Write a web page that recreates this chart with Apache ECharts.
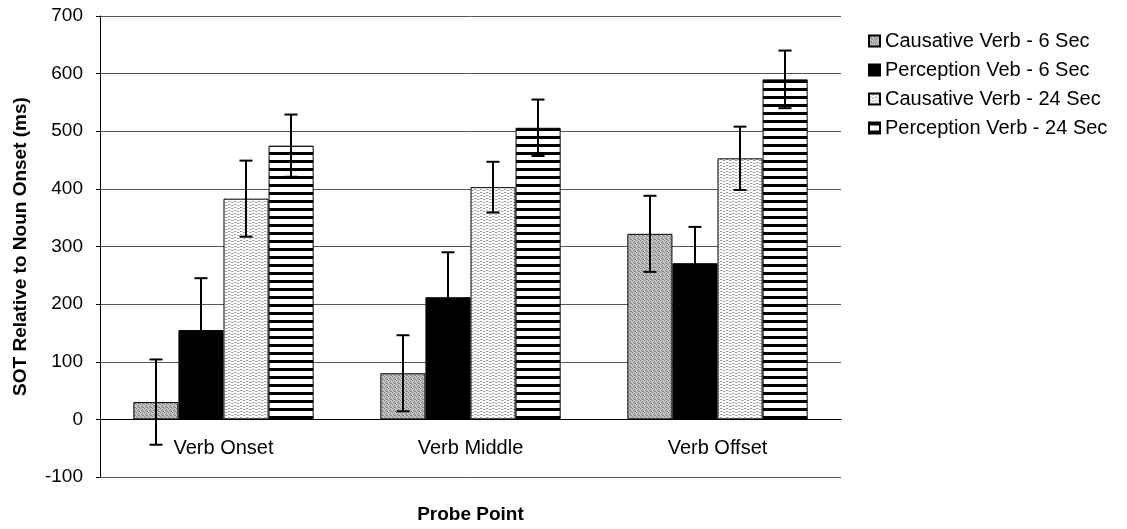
<!DOCTYPE html>
<html><head><meta charset="utf-8">
<script src="https://cdn.jsdelivr.net/npm/echarts@6/dist/echarts.min.js"></script>
<style>html,body{margin:0;padding:0;background:#fff}#c{width:1127px;height:529px}</style>
</head><body><div id="c"></div>
<script>
const categories = ['Verb Onset', 'Verb Middle', 'Verb Offset'];
const seriesNames = ['Causative Verb - 6 Sec', 'Perception Veb - 6 Sec', 'Causative Verb - 24 Sec', 'Perception Verb - 24 Sec'];
const causative6 = [30, 80, 322];
const perception6 = [155, 212, 271];
const causative24 = [383, 403, 453];
const perception24 = [475, 506, 590];
const causative6Err = [74, 66, 66];
const perception6Err = [90, 78, 63];
const causative24Err = [66, 44, 55];
const perception24Err = [54, 49, 50];
const yTicks = [-100, 0, 100, 200, 300, 400, 500, 600, 700];

const values = [causative6, perception6, causative24, perception24];
const errs = [causative6Err, perception6Err, causative24Err, perception24Err];

function pat(w, h, draw) {
  const c = document.createElement('canvas'); c.width = w; c.height = h;
  const g = c.getContext('2d'); draw(g); return { image: c, repeat: 'repeat' };
}
const fills = [
  pat(4, 4, g => { g.fillStyle = '#c4c4c4'; g.fillRect(0,0,4,4); g.fillStyle = '#808080';
    g.fillRect(0,0,1,1); g.fillRect(2,1,1,1); g.fillRect(1,2,1,1); g.fillRect(3,3,1,1); g.fillRect(2,3,1,1);}),
  '#000000',
  pat(6, 3, g => { g.fillStyle = '#ffffff'; g.fillRect(0,0,6,3); g.fillStyle = '#a0a0a0';
    g.fillRect(0,0,2,1); g.fillRect(3,1,2,1); g.fillStyle = '#d8d8d8'; g.fillRect(2,0,1,1); g.fillRect(5,1,1,1);}),
  pat(1, 8, g => { g.fillStyle = '#ffffff'; g.fillRect(0,0,1,8); g.fillStyle = '#000000'; g.fillRect(0,0,1,3); })
];

const GAP = 0.27;
const series = [];
values.forEach((v, i) => {
  series.push({
    name: seriesNames[i], type: 'bar', data: v,
    barCategoryGap: (GAP*100) + '%', barGap: '0%',
    itemStyle: { color: fills[i], borderColor: '#000', borderWidth: 1 },
    emphasis: { disabled: true }
  });
});
values.forEach((v, i) => {
  series.push({
    type: 'custom', name: seriesNames[i] + ' err',
    data: v.map((val, k) => [k, val, errs[i][k]]),
    encode: { x: 0, y: 1 },
    z: 10, silent: true,
    renderItem: (params, api) => {
      const k = api.value(0), val = api.value(1), e = api.value(2);
      const band = api.size([1, 0])[0];
      const bw = band * (1 - GAP) / 4;
      const c = api.coord([k, val]);
      const x = Math.round(c[0] - band * (1 - GAP) / 2 + bw * (i + 0.5));
      const top = api.coord([k, val + e])[1];
      const bot = api.coord([k, val - e])[1];
      const cw = 6.5;
      const st = { stroke: '#000', lineWidth: 2 };
      return { type: 'group', children: [
        { type: 'line', shape: { x1: x, y1: top, x2: x, y2: bot }, style: st },
        { type: 'line', shape: { x1: x - cw, y1: top, x2: x + cw, y2: top }, style: st },
        { type: 'line', shape: { x1: x - cw, y1: bot, x2: x + cw, y2: bot }, style: st }
      ]};
    }
  });
});

const chart = echarts.init(document.getElementById('c'), null, { renderer: 'canvas' });
chart.setOption({
  animation: false,
  textStyle: { fontFamily: 'Liberation Sans' },
  grid: { left: 100, right: 286, top: 16, bottom: 52, containLabel: false, outerBoundsMode: 'none' },
  legend: {
    data: seriesNames, orient: 'vertical', left: 863, top: 26,
    icon: 'rect', itemWidth: 11, itemHeight: 11, itemGap: 9,
    textStyle: { fontSize: 20, color: '#000', fontFamily: 'Liberation Sans' },
    selectedMode: false
  },
  xAxis: {
    type: 'category', data: categories,
    offset: -57.6,
    name: 'Probe Point', nameLocation: 'middle', nameGap: 86,
    nameTextStyle: { fontSize: 19, fontWeight: 'bold', color: '#000' },
    axisLine: { onZero: false, lineStyle: { color: '#000', width: 1 } },
    axisTick: { show: false },
    axisLabel: { fontSize: 20, color: '#000', margin: 19 }
  },
  yAxis: {
    type: 'value', min: -100, max: 700, interval: 100,
    name: 'SOT Relative to Noun Onset (ms)', nameLocation: 'middle', nameGap: 70,
    nameTextStyle: { fontSize: 19, fontWeight: 'bold', color: '#000' },
    axisLine: { show: true, lineStyle: { color: '#000' } },
    axisTick: { show: true, length: 4, lineStyle: { color: '#000' } },
    axisLabel: { fontSize: 19, color: '#000', margin: 17,
      formatter: v => yTicks.includes(v) ? String(v) : '' },
    splitLine: { show: true, lineStyle: { color: '#555', width: 1 } }
  },
  series: series
});
</script></body></html>
